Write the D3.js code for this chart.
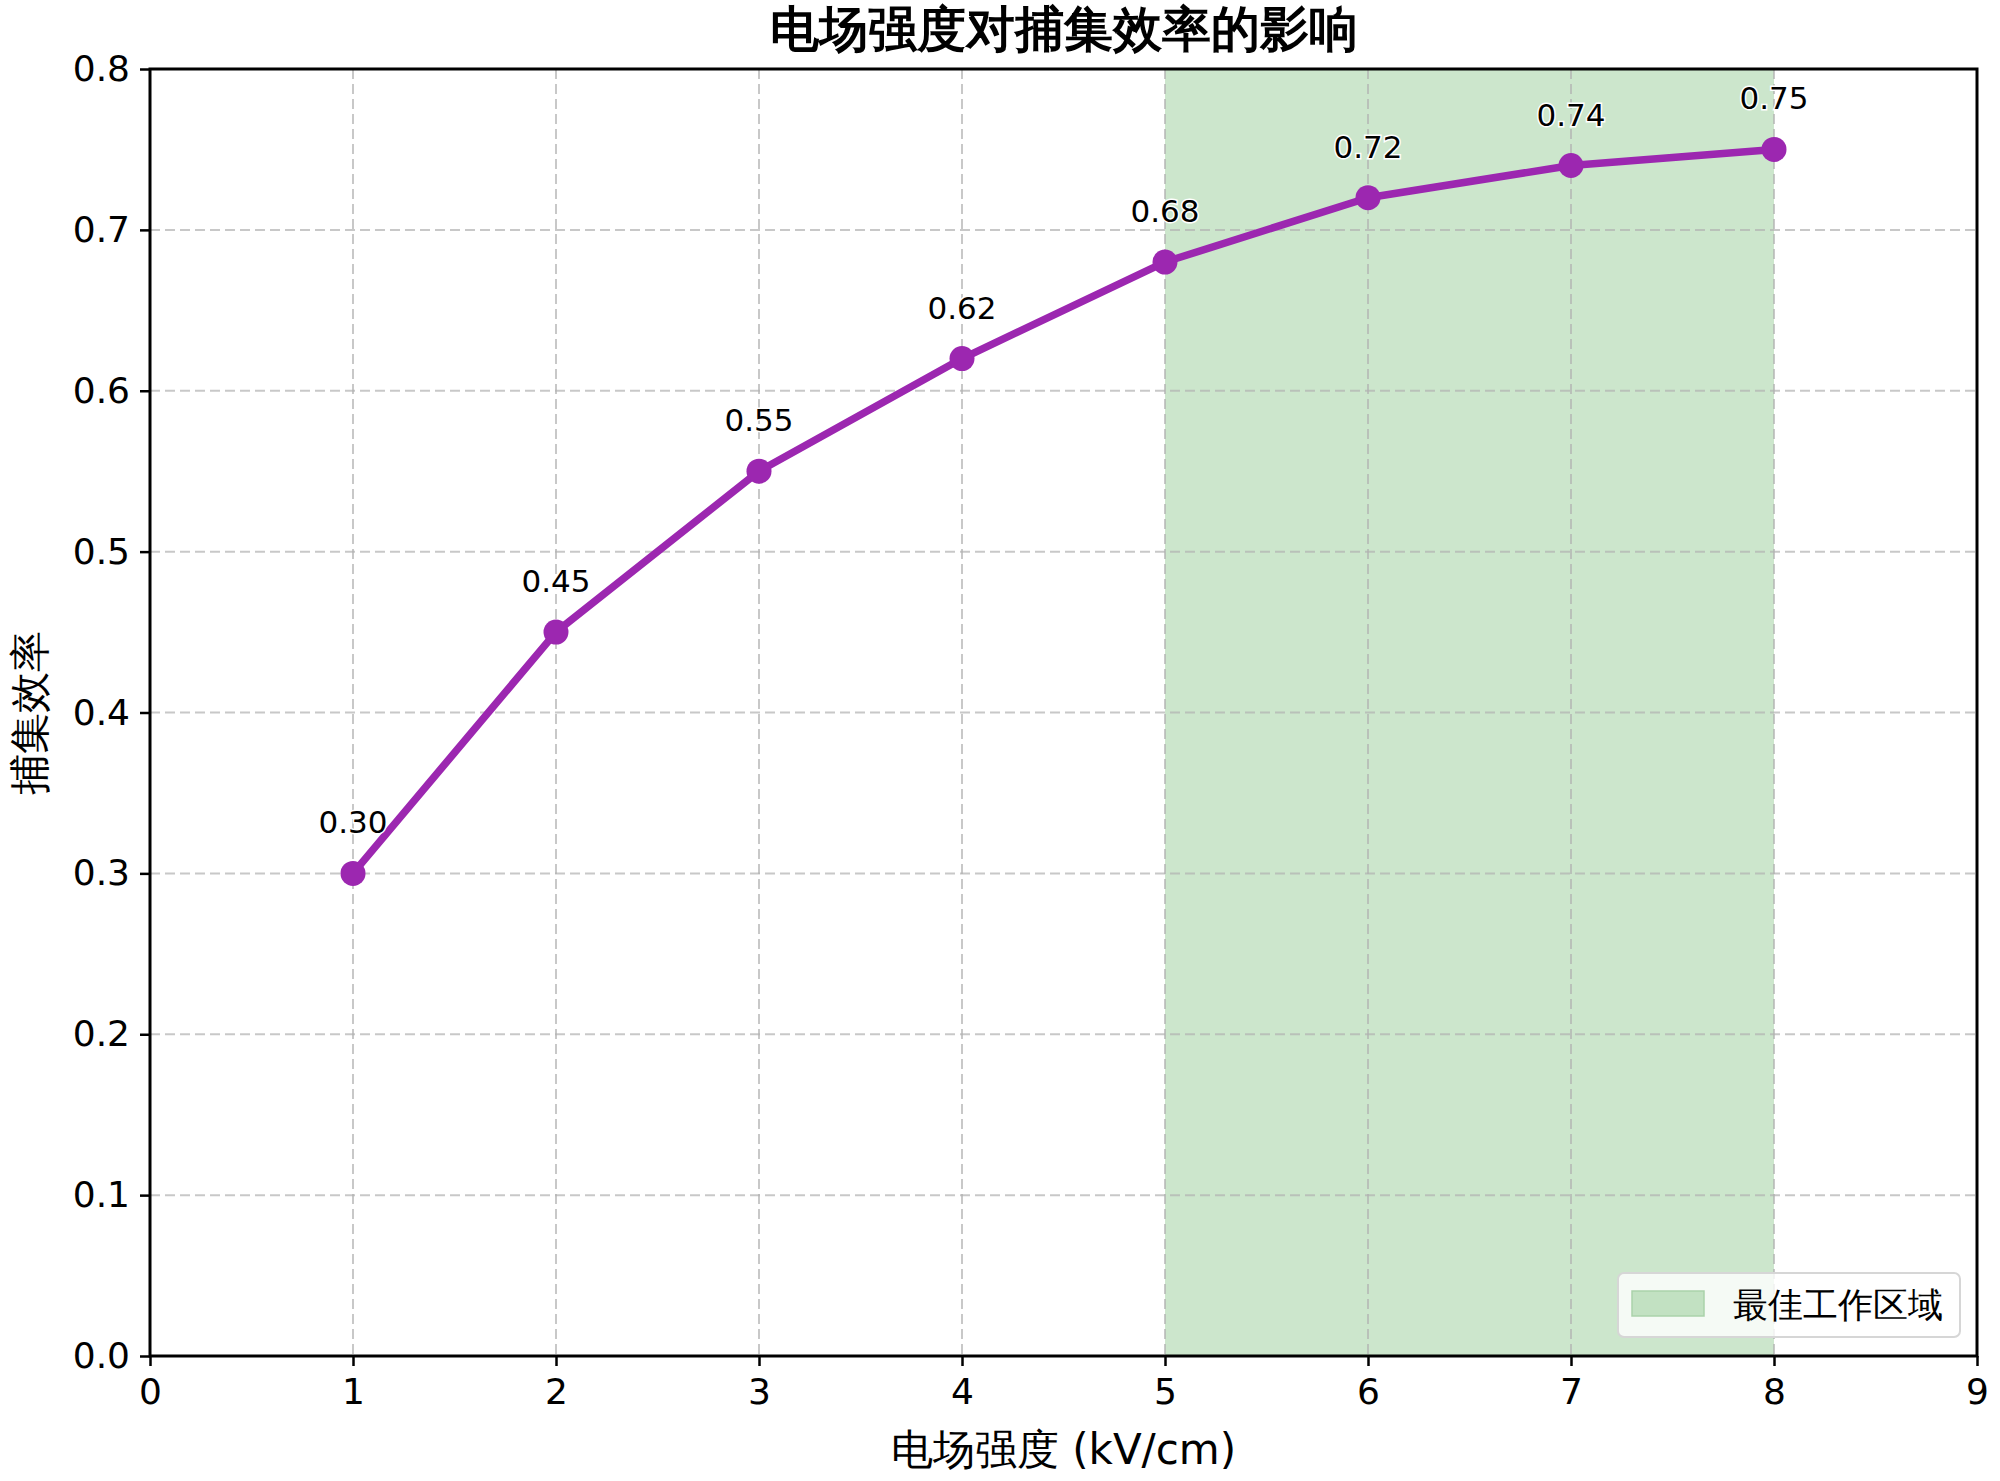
<!DOCTYPE html>
<html>
<head>
<meta charset="utf-8">
<script src="https://cdn.jsdelivr.net/npm/d3@7"></script>
<style>
  body { margin: 0; background: #fff; }
  svg text { font-family: "DejaVu Sans", sans-serif; }
</style>
</head>
<body>
<svg id="chart"></svg>
<script>
// field strength (kV/cm) and capture efficiency
const fieldStrength = [1, 2, 3, 4, 5, 6, 7, 8];
const efficiency = [0.30, 0.45, 0.55, 0.62, 0.68, 0.72, 0.74, 0.75];
const optimalZone = [5, 8];
const xTicks = [0, 1, 2, 3, 4, 5, 6, 7, 8, 9];
const yTicks = [0, 0.1, 0.2, 0.3, 0.4, 0.5, 0.6, 0.7, 0.8];

const W = 2000, H = 1481;
const margin = { top: 69, right: 23, bottom: 125, left: 150 };
const width = W - margin.left - margin.right;
const height = H - margin.top - margin.bottom;
const cjk = '"Noto Sans CJK SC", "DejaVu Sans", sans-serif';

const svg = d3.select('#chart').attr('width', W).attr('height', H);
const g = svg.append('g').attr('transform', `translate(${margin.left},${margin.top})`);

const x = d3.scaleLinear().domain([0, 9]).range([0, width]);
const y = d3.scaleLinear().domain([0, 0.8]).range([height, 0]);

// shaded optimal zone
g.append('rect')
    .attr('x', x(optimalZone[0]))
    .attr('y', 0)
    .attr('width', x(optimalZone[1]) - x(optimalZone[0]))
    .attr('height', height)
    .attr('fill', 'rgb(204,230,204)');

// grid
g.append('g').selectAll('line').data(xTicks.slice(1, -1)).enter().append('line')
    .attr('x1', d => x(d)).attr('x2', d => x(d))
    .attr('y1', 0).attr('y2', height)
    .attr('stroke', '#b0b0b0').attr('stroke-opacity', 0.7)
    .attr('stroke-width', 2).attr('stroke-dasharray', '10,5');
g.append('g').selectAll('line').data(yTicks.slice(1, -1)).enter().append('line')
    .attr('x1', 0).attr('x2', width)
    .attr('y1', d => y(d)).attr('y2', d => y(d))
    .attr('stroke', '#b0b0b0').attr('stroke-opacity', 0.7)
    .attr('stroke-width', 2).attr('stroke-dasharray', '10,5');

// axes
const xAxis = g.append('g')
    .attr('transform', `translate(0,${height})`)
    .call(d3.axisBottom(x).tickValues(xTicks).tickFormat(d3.format('d')).tickSize(10).tickPadding(12));
const yAxis = g.append('g')
    .call(d3.axisLeft(y).tickValues(yTicks).tickFormat(d3.format('.1f')).tickSize(10).tickPadding(10));
[xAxis, yAxis].forEach(a => {
    a.select('.domain').remove();
    a.selectAll('line').attr('stroke', '#000').attr('stroke-width', 2.5);
    a.selectAll('text').attr('font-size', 36).attr('fill', '#000')
        .attr('font-family', '"DejaVu Sans", sans-serif');
});

// frame
g.append('rect').attr('width', width).attr('height', height)
    .attr('fill', 'none').attr('stroke', '#000').attr('stroke-width', 3);

// line + markers
const line = d3.line().x((d, i) => x(fieldStrength[i])).y(d => y(d));
g.append('path').datum(efficiency)
    .attr('d', line)
    .attr('fill', 'none').attr('stroke', '#9c27b0')
    .attr('stroke-width', 7.5).attr('stroke-linejoin', 'round');
g.selectAll('.dot').data(efficiency).enter().append('circle')
    .attr('class', 'dot')
    .attr('cx', (d, i) => x(fieldStrength[i]))
    .attr('cy', d => y(d))
    .attr('r', 12.5)
    .attr('fill', '#9c27b0');

// value labels
g.selectAll('.lbl').data(efficiency).enter().append('text')
    .attr('class', 'lbl')
    .attr('x', (d, i) => x(fieldStrength[i]))
    .attr('y', d => y(d) - 40)
    .attr('text-anchor', 'middle')
    .attr('font-size', 31)
    .attr('fill', '#000')
    .attr('stroke', '#fff').attr('stroke-width', 3).attr('paint-order', 'stroke')
    .text(d => d.toFixed(2));

// title & axis labels
svg.append('text')
    .attr('x', margin.left + width / 2).attr('y', 46)
    .attr('text-anchor', 'middle')
    .attr('font-family', cjk).attr('font-weight', 900).attr('font-size', 49)
    .text('电场强度对捕集效率的影响');
svg.append('text')
    .attr('x', margin.left + width / 2).attr('y', 1464)
    .attr('text-anchor', 'middle')
    .attr('font-family', cjk).attr('font-size', 42)
    .text('电场强度 (kV/cm)');
svg.append('text')
    .attr('transform', `translate(44,${margin.top + height / 2}) rotate(-90)`)
    .attr('text-anchor', 'middle')
    .attr('font-family', cjk).attr('font-size', 41)
    .text('捕集效率');

// legend
const lg = g.append('g').attr('transform', `translate(${width - 359},${height - 83})`);
lg.append('rect')
    .attr('width', 342).attr('height', 64).attr('rx', 6)
    .attr('fill', '#fff').attr('fill-opacity', 0.8)
    .attr('stroke', '#d6d6d6').attr('stroke-width', 2);
lg.append('rect')
    .attr('x', 14).attr('y', 18).attr('width', 72).attr('height', 25)
    .attr('fill', 'rgb(194,225,194)').attr('stroke', 'rgb(170,210,170)').attr('stroke-width', 1.5);
lg.append('text')
    .attr('x', 115).attr('y', 44)
    .attr('font-family', cjk).attr('font-size', 35)
    .text('最佳工作区域');
</script>
</body>
</html>
